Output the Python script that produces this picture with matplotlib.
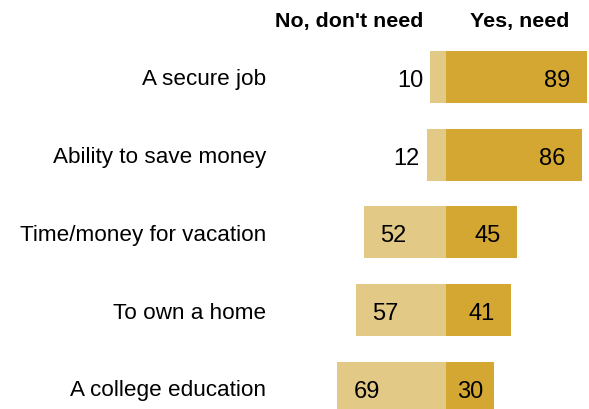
import matplotlib
matplotlib.use("Agg")
import matplotlib.pyplot as plt
from matplotlib import font_manager

categories = ["A secure job", "Ability to save money", "Time/money for vacation",
              "To own a home", "A college education"]
no_vals = [10, 12, 52, 57, 69]
yes_vals = [89, 86, 45, 41, 30]
headers = ["No, don't need", "Yes, need"]

names = {f.name for f in font_manager.fontManager.ttflist}
narrow = "Liberation Sans Narrow" if "Liberation Sans Narrow" in names else "Liberation Sans"
base = "Liberation Sans"

YES_C = "#D3A731"
NO_C = "#E2C985"

fig = plt.figure(figsize=(5.89, 4.10), dpi=100)
ax = fig.add_axes([0, 0, 1, 1])
ppu = 1.585  # px per unit
cx = 446
ax.set_xlim(-cx / ppu, (589 - cx) / ppu)
rs = 77.7
ax.set_ylim((410 - 78) / rs, -78 / rs)
ax.axis("off")

ys = list(range(len(categories)))
ax.barh(ys, [-v for v in no_vals], height=0.67, color=NO_C, edgecolor="none")
ax.barh(ys, yes_vals, height=0.67, color=YES_C, edgecolor="none")

fs = 17
lab_dy = 7.5 / rs
num_dy = 9.0 / rs
for y, cat, n, yv in zip(ys, categories, no_vals, yes_vals):
    ax.text((266 - cx) / ppu, y + lab_dy, cat, ha="right", va="baseline",
            fontsize=16.2, family=base)
    if n < 20:
        ax.text(-n - 7 / ppu, y + num_dy, str(n), ha="right", va="baseline",
                fontsize=fs, family=base)
    else:
        ax.text(-n + 16.7 / ppu, y + num_dy, str(n), ha="left", va="baseline",
                fontsize=fs, family=base)
    off = 16.5 if yv > 35 else 10
    ax.text(yv - off / ppu, y + num_dy, str(yv), ha="right", va="baseline",
            fontsize=fs, family=base)

hy = (27 - 78) / rs
ax.text((423 - cx) / ppu, hy, headers[0], ha="right", va="baseline", fontsize=15.4,
        fontweight="bold", family=narrow)
ax.text((520 - cx) / ppu, hy, headers[1], ha="center", va="baseline", fontsize=15.4,
        fontweight="bold", family=narrow)

fig.savefig("out.png", dpi=100)
